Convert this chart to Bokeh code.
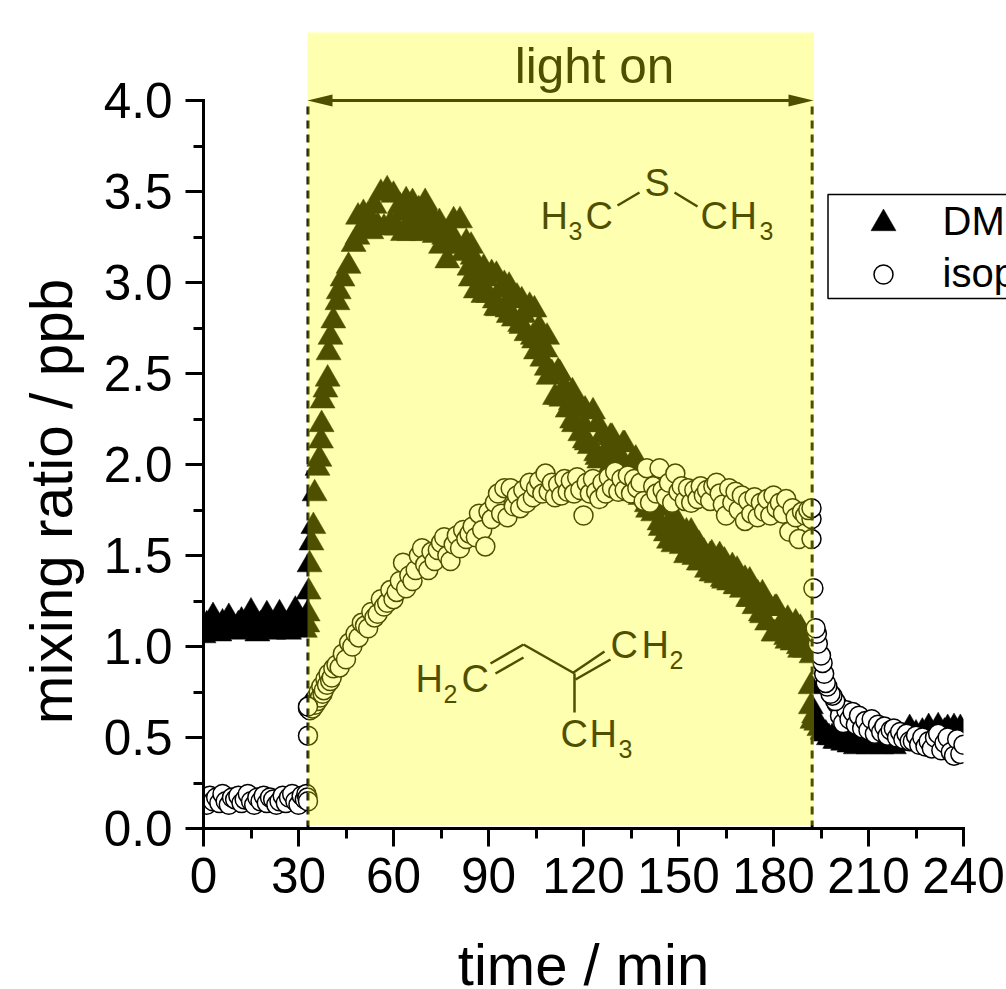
from bokeh.plotting import figure
from bokeh.models import (Range1d, FixedTicker, BoxAnnotation, Label, PolyAnnotation,
                          PrintfTickFormatter)
from bokeh.embed import file_html
from bokeh.resources import INLINE

dms_t = [0,1,2,3,4,5,6,7,8,9,10,11,12,13,14,15,16,17,18,19,20,21,22,23,24,25,26,27,28,29,30,31,32,
 32.8,32.9,33.2,33.5,34.1,34.7,35.1,36,36.6,37.1,37.3,37.6,38.5,39.2,39.5,40.1,41,42.3,42.7,43.9,45.8,47.4,48.6,48.8,50.5,
 51,52,53,54,55,56,57,58,59,60,61,62,63,64,65,66,67,68,69,70,
 71,72,73,74,75,76,77,78,79,80,81,82,83,84,85,86,87,88,89,90,
 91,92,93,94,95,96,97,98,99,100,101,102,103,104,105,106,107,108,109,110,
 111,112,113,114,115,116,117,118,119,120,121,122,123,124,125,126,127,128,129,130,
 131,132,133,134,135,136,137,138,139,140,141,142,143,144,145,146,147,148,149,150,
 151,152,153,154,155,156,157,158,159,160,161,162,163,164,165,166,167,168,169,170,
 171,172,173,174,175,176,177,178,179,180,181,182,183,184,185,186,187,188,189,190,
 191,192,191.7,191.8,192.3,192.8,193.5,194.5,195.5,196.5,197.5,198.5,199.5,
 200,201,202,203,204,205,206,207,208,209,210,211,212,213,214,215,216,217,218,219,
 220,221,222,223,224,225,226,227,228,229,230,231,232,233,234,235,236,237,238,239,240,
 62.5,66.5,70.5,74.5,78.5,
 84.5,88.5,92.5,96.5,100.5,104.5,108.5,112.5,116.5,120.5,124.5,128.5,132.5,136.5,140.5,144.5,148.5,152.5,156.5,160.5,164.5,168.5,172.5,176.5,180.5,184.5,188.5,
 84.4,88.4,92.4,96.4,100.4,104.4,108.4,112.4,116.4,120.4,124.4,128.4,132.4,136.4,140.4,144.4,148.4,152.4,156.4,160.4,164.4,168.4,172.4,176.4,180.4,184.4,188.4]
dms_y = [1.06,1.12,1.10,1.165,1.09,1.07,1.13,1.10,1.16,1.11,1.08,1.12,1.14,1.09,1.13,1.19,1.10,1.07,1.12,1.10,1.175,1.11,1.08,1.13,1.18,1.09,1.12,1.08,1.14,1.20,1.10,1.13,1.09,
 1.12,1.18,1.30,1.45,1.57,1.66,1.84,1.98,2.03,2.13,2.22,2.35,2.41,2.47,2.615,2.70,2.79,2.89,2.95,3.02,3.09,3.21,3.25,3.36,3.38,
 3.30,3.37,3.28,3.42,3.31,3.49,3.30,3.51,3.32,3.48,3.30,3.42,3.27,3.45,3.27,3.44,3.28,3.40,3.27,3.44,
 3.30,3.37,3.26,3.30,3.20,3.25,3.12,3.22,3.34,3.20,3.34,3.16,3.22,3.08,3.14,2.955,3.06,2.96,3.02,2.93,
 3.05,2.90,2.857,2.96,2.99,2.85,2.92,2.80,2.92,2.77,2.82,2.72,2.87,2.70,2.62,2.75,2.58,2.63,2.48,2.50,
 2.37,2.51,2.36,2.42,2.30,2.34,2.22,2.33,2.17,2.22,2.12,2.10,2.29,2.06,2.02,2.16,2.03,2.10,2.15,1.98,
 2.06,1.97,2.11,1.93,2.00,1.87,1.94,1.82,1.90,1.78,1.88,1.73,1.80,1.68,1.76,1.62,1.58,1.70,1.58,1.66,
 1.55,1.60,1.52,1.63,1.49,1.56,1.46,1.52,1.42,1.50,1.40,1.39,1.50,1.37,1.43,1.35,1.44,1.33,1.38,1.31,
 1.37,1.26,1.33,1.22,1.29,1.18,1.25,1.13,1.21,1.07,1.21,1.09,1.14,1.05,1.10,1.02,1.13,1.00,1.08,0.98,
 1.03,0.95,0.78,0.67,0.59,0.62,0.58,0.55,0.53,0.52,0.50,0.50,0.48,
 0.48,0.50,0.47,0.49,0.46,0.48,0.45,0.50,0.46,0.49,0.45,0.48,0.46,0.49,0.45,0.50,0.46,0.48,0.45,0.49,
 0.47,0.50,0.47,0.55,0.48,0.52,0.49,0.53,0.50,0.555,0.50,0.52,0.56,0.50,0.53,0.55,0.51,0.555,0.52,0.55,0.52,
 3.38,3.36,3.36,3.33,3.26,
 3.20,3.08,3.04,2.98,2.90,2.85,2.70,2.50,2.40,2.30,2.22,2.15,2.11,2.03,1.92,1.82,1.72,1.63,1.56,1.51,1.47,1.42,1.36,1.29,1.21,1.15,1.10,
 3.02,2.93,2.86,2.82,2.76,2.68,2.53,2.37,2.24,2.13,2.04,1.99,1.94,1.84,1.75,1.65,1.56,1.50,1.46,1.40,1.36,1.33,1.26,1.17,1.07,1.03,0.98]

iso_t = [0,1,2,3,4,5,6,7,8,9,10,11,12,13,14,15,16,17,18,19,20,21,22,23,24,25,26,27,28,29,30,31,32,
 32.5,32.8,33,33.3,33.6,34,34.4,34.8,35.2,35.6,36,36.4,36.8,37.2,37.6,38,38.5,39,39.5,40,40.5,41,33,33,33,
 42,43,44,45,46,47,48,49,50,51,52,53,54,55,56,57,58,59,60,61,62,63,64,65,66,67,68,69,70,
 71,72,73,74,75,76,77,78,79,80,81,82,83,84,85,86,87,88,89,90,
 91,92,93,94,95,96,97,98,99,100,101,102,103,104,105,106,107,108,109,110,
 111,112,113,114,115,116,117,118,119,120,121,122,123,124,125,126,127,128,129,130,
 131,132,133,134,135,136,137,138,139,140,141,142,143,144,145,146,147,148,149,150,
 151,152,153,154,155,156,157,158,159,160,161,162,163,164,165,166,167,168,169,170,
 171,172,173,174,175,176,177,178,179,180,181,182,183,184,185,186,187,188,189,190,
 200,201,202,203,204,205,206,207,208,209,210,211,212,213,214,215,216,217,218,219,
 220,221,222,223,224,225,226,227,228,229,230,231,232,233,234,235,236,237,238,239,240,
 199.5,198.6,198,197,196.5,196,195.5,195,194,193.7,193.3,192.6,192,192,191,192]
iso_y = [0.16,0.13,0.18,0.15,0.17,0.14,0.19,0.15,0.13,0.17,0.16,0.18,0.14,0.16,0.19,0.15,0.13,0.17,0.15,0.18,0.14,0.17,0.16,0.13,0.15,0.18,0.14,0.17,0.19,0.15,0.13,0.18,0.16,
 0.19,0.17,0.66,0.67,0.65,0.68,0.66,0.70,0.68,0.72,0.70,0.75,0.72,0.78,0.74,0.76,0.82,0.79,0.85,0.81,0.83,0.88,0.67,0.51,0.15,
 0.90,0.885,0.96,0.93,1.02,1.00,1.07,1.05,1.13,1.115,1.10,1.19,1.16,1.18,1.26,1.22,1.24,1.31,1.26,1.30,1.36,1.46,1.32,1.39,1.36,1.42,1.50,1.54,1.45,
 1.42,1.52,1.47,1.53,1.57,1.60,1.50,1.47,1.56,1.61,1.54,1.64,1.59,1.62,1.66,1.60,1.73,1.64,1.55,1.74,
 1.70,1.79,1.84,1.73,1.87,1.71,1.87,1.77,1.83,1.76,1.86,1.79,1.90,1.82,1.87,1.91,1.84,1.95,1.85,1.90,
 1.82,1.89,1.83,1.92,1.85,1.91,1.84,1.93,1.86,1.72,1.90,1.84,1.92,1.85,1.81,1.90,1.84,1.93,1.87,1.96,
 1.85,1.92,1.86,1.94,1.84,1.92,1.87,1.90,1.80,1.98,1.79,1.88,1.84,1.98,1.86,1.82,1.90,1.79,1.95,1.85,
 1.88,1.80,1.87,1.79,1.86,1.81,1.88,1.83,1.86,1.80,1.88,1.90,1.84,1.78,1.72,1.87,1.79,1.85,1.75,1.83,
 1.69,1.80,1.73,1.82,1.71,1.79,1.74,1.81,1.72,1.83,1.76,1.79,1.73,1.81,1.63,1.76,1.71,1.59,1.74,1.72,
 0.685,0.62,0.58,0.65,0.60,0.64,0.57,0.62,0.55,0.59,0.54,0.60,0.52,0.57,0.53,0.56,0.51,0.54,0.55,0.50,
 0.53,0.49,0.52,0.48,0.48,0.51,0.46,0.50,0.45,0.48,0.44,0.50,0.52,0.43,0.47,0.50,0.42,0.40,0.49,0.41,0.46,
 0.70,0.73,0.74,0.78,0.80,0.85,0.91,0.95,1.015,1.07,1.10,1.32,1.59,1.70,1.75,1.76]

x_ticks = [0,30,60,90,120,150,180,210,240]
x_minor = [15,45,75,105,135,165,195,225]
y_ticks = [0,0.5,1,1.5,2,2.5,3,3.5,4]
y_minor = [0.25,0.75,1.25,1.75,2.25,2.75,3.25,3.75]

FONT = "Liberation Sans"
X0, X1, Y0, Y1 = 203.0, 963.0, 828.0, 100.0
W, H = 1006, 989

def X(px):
    return (px - X0) / (X1 - X0) * 240
def Y(py):
    return (Y0 - py) / (Y0 - Y1) * 4

p = figure(width=W, height=H, output_backend="svg", toolbar_location=None,
           x_range=Range1d(X(0), X(W)), y_range=Range1d(Y(H), Y(0)),
           min_border_left=0, min_border_right=0, min_border_top=0, min_border_bottom=0,
           outline_line_color=None, background_fill_color="white")
p.grid.visible = False

for ax in (p.xaxis[0], p.yaxis[0]):
    ax.fixed_location = 0
    ax.axis_line_width = 3
    ax.major_tick_line_width = 3
    ax.minor_tick_line_width = 3
    ax.major_tick_in = 0
    ax.major_tick_out = 18
    ax.minor_tick_in = 0
    ax.minor_tick_out = 10
    ax.major_label_text_font = FONT
    ax.major_label_text_font_size = "49.5px"
    ax.major_label_text_color = "black"
    ax.axis_line_cap = "square"

p.xaxis[0].bounds = (0, 240)
p.yaxis[0].bounds = (0, 4)
p.xaxis[0].ticker = FixedTicker(ticks=x_ticks, minor_ticks=x_minor)
p.yaxis[0].ticker = FixedTicker(ticks=y_ticks, minor_ticks=y_minor)
p.yaxis[0].formatter = PrintfTickFormatter(format="%.1f")
p.xaxis[0].major_label_standoff = 11
p.yaxis[0].major_label_standoff = 13
p.xaxis[0].axis_label = "time / min"
p.xaxis[0].axis_label_text_font = FONT
p.xaxis[0].axis_label_text_font_size = "58px"
p.xaxis[0].axis_label_text_font_style = "normal"
p.xaxis[0].axis_label_text_color = "black"
p.xaxis[0].axis_label_standoff = 36

p.scatter(dms_t, dms_y, marker="triangle", size=25, fill_color="black", line_color="black", line_width=0.5)
p.scatter(iso_t, iso_y, marker="circle", size=19, fill_color="white", line_color="black", line_width=1.5)

# the plot area clips the marks at both ends of the time axis
p.quad(left=[X(188), 240], right=[0, X(990)], bottom=[0.04, 0.3], top=[1.4, 0.75],
       fill_color="white", line_color=None)

# dashed lines that mark when the light goes on and off
for loc in (33.0, 192.2):
    p.line([loc, loc], [0, 4], line_color="black", line_width=3, line_dash="8 6")

def txt(px, py, s, size):
    drop = 0.30 * size if size < 30 else 0.38 * size
    p.add_layout(Label(x=X(px), y=Y(py - drop), text=s, text_font=FONT, text_font_size=f"{size}px",
                       text_color="black", text_align="left", text_baseline="alphabetic"))

def bond(x0, y0, x1, y1):
    p.line([X(x0), X(x1)], [Y(y0), Y(y1)], line_color="black", line_width=2.5)

# dimethyl sulfide
txt(540, 230, "H", 38); txt(568, 238, "3", 25); txt(585, 230, "C", 38)
txt(644, 197, "S", 38)
txt(700, 230, "C", 38); txt(729, 230, "H", 38); txt(759, 238, "3", 25)
bond(617, 205, 639, 192); bond(674, 192, 697, 206)
# isoprene
txt(415, 693, "H", 38); txt(443, 701, "2", 25); txt(461, 693, "C", 38)
txt(610, 659, "C", 38); txt(641, 659, "H", 38); txt(669, 667, "2", 25)
txt(560, 748, "C", 38); txt(589, 748, "H", 38); txt(618, 756, "3", 25)
bond(490, 663, 523, 644); bond(495, 673, 523, 657); bond(523, 644, 574, 673)
bond(573, 672, 604, 651); bond(575, 679, 610, 659); bond(574, 673, 574, 712)

p.add_layout(Label(x=X(594), y=Y(83 - 18), text="light on", text_font=FONT, text_font_size="49.5px",
                   text_color="black", text_align="center", text_baseline="alphabetic"))

arrow_x = [307, 332, 332, 788, 788, 813, 788, 788, 332, 332]
arrow_y = [100, 94, 98.5, 98.5, 94, 100, 106, 101.5, 101.5, 106]
p.add_layout(PolyAnnotation(xs=[X(v) for v in arrow_x], ys=[Y(v) for v in arrow_y],
                            fill_color="black", fill_alpha=1, line_color=None))

p.add_layout(BoxAnnotation(left=X(307), right=X(813.5), top=Y(32), bottom=Y(825),
                           fill_color=(255, 254, 0), fill_alpha=0.31, line_color=None, line_alpha=0))

# legend, cut by the right edge of the picture
p.quad(left=[X(827.5)], right=[X(1030)], top=[Y(194)], bottom=[Y(298)],
       fill_color="white", line_color="black", line_width=1.5)
p.scatter([X(883)], [Y(223)], marker="triangle", size=25, fill_color="black", line_color="black", line_width=0.5)
p.scatter([X(883)], [Y(274)], marker="circle", size=19, fill_color="white", line_color="black", line_width=1.5)
txt(942, 236, "DMS", 40)
txt(942, 288, "isoprene", 40)

p.add_layout(Label(x=X(73 - 22), y=Y(501), text="mixing ratio / ppb", angle=90, angle_units="deg",
                   text_align="center", text_baseline="alphabetic", text_font=FONT,
                   text_font_size="58.5px", text_color="black"))

open("out.html", "w").write(file_html(p, INLINE))
